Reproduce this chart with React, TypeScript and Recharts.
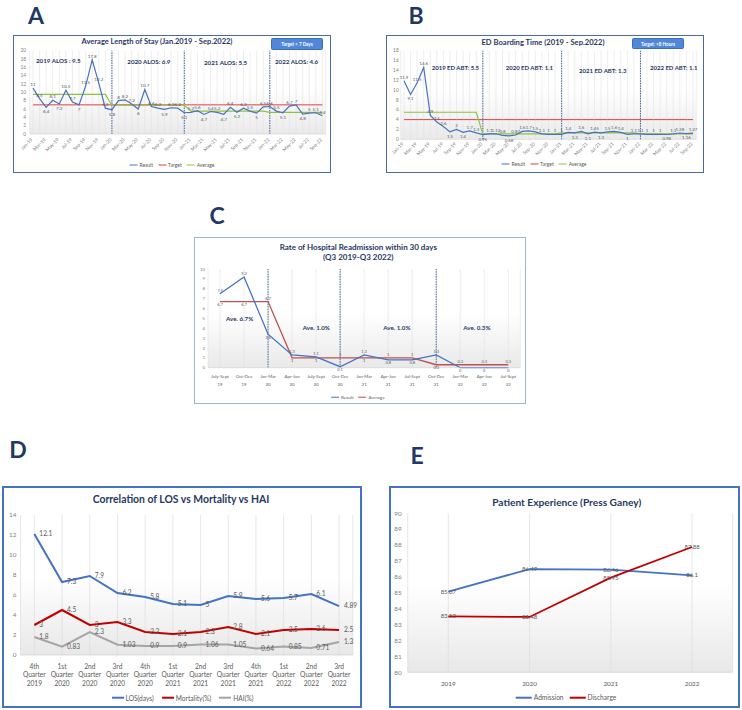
import React from "react";
import {
  LineChart,
  Line,
  XAxis,
  YAxis,
  CartesianGrid,
  ReferenceLine,
  LabelList,
} from "recharts";

// ---- shared month axis for A and B ----
const months = [
  "Jan-19", "Feb-19", "Mar-19", "Apr-19", "May-19", "Jun-19", "Jul-19", "Aug-19", "Sep-19", "Oct-19", "Nov-19", "Dec-19",
  "Jan-20", "Feb-20", "Mar-20", "Apr-20", "May-20", "Jun-20", "Jul-20", "Aug-20", "Sep-20", "Oct-20", "Nov-20", "Dec-20",
  "Jan-21", "Feb-21", "Mar-21", "Apr-21", "May-21", "Jun-21", "Jul-21", "Aug-21", "Sep-21", "Oct-21", "Nov-21", "Dec-21",
  "Jan-22", "Feb-22", "Mar-22", "Apr-22", "May-22", "Jun-22", "Jul-22", "Aug-22", "Sep-22",
];

// A: Average length of stay
const alosResult = [
  11, 8.5, 6.4, 8.1, 7.2, 10.5, 7.7, 7.0, 11.5, 17.8, 12.2, 6.2,
  5.8, 8, 8.2, 7.2, 6, 10.7, 6.6, 6.2, 5.9, 6.3, 6.2, 5.1,
  5.2, 5.6, 4.7, 5.4, 5.2, 4.7, 6.4, 5.2, 6.2, 5.5, 5.0, 6.5,
  6.6, 5.5, 5.1, 6.7, 7, 4.8, 5.0, 5.1, 4.4,
];
const alosTarget = [
  7, 7, 7, 7, 7, 7, 7, 7, 7, 7, 7, 7,
  7, 7, 7, 7, 7, 7, 7, 7, 7, 7, 7, 7,
  7, 7, 7, 7, 7, 7, 7, 7, 7, 7, 7, 7,
  7, 7, 7, 7, 7, 7, 7, 7, 7,
];
const alosAverage = [
  9.5, 9.5, 9.5, 9.5, 9.5, 9.5, 9.5, 9.5, 9.5, 9.5, 9.5, 9.5,
  6.9, 6.9, 6.9, 6.9, 6.9, 6.9, 6.9, 6.9, 6.9, 6.9, 6.9, 6.9,
  5.5, 5.5, 5.5, 5.5, 5.5, 5.5, 5.5, 5.5, 5.5, 5.5, 5.5, 5.5,
  5.2, 5.2, 5.2, 5.2, 5.2, 5.2, 5.2, 5.2, 5.2,
];
const alosTicks = [0, 2, 4, 6, 8, 10, 12, 14, 16, 18, 20];
const alosNotes = ["2019 ALOS : 9.5", "2020 ALOS: 6.9", "2021 ALOS: 5.5", "2022 ALOS: 4.6"];

// B: ED boarding time
const edbtResult = [
  11.9, 9.1, 11.5, 14.6, 4.9, 3.5, 2.6, 1.5, 2, 1.4, 1.7, 1.3,
  0.95, 1.1, 1.12, 0.8, 0.68, 0.87, 1.6, 1.7, 1.5, 1.1, 1.0, 1.0,
  1.0, 1.4, 1.3, 1.6, 1.1, 1.45, 1.3, 1.5, 1.6, 1.4, 1.0, 1.1,
  1.1, 1.0, 1.0, 1.0, 0.98, 1.1, 1.28, 1.16, 1.27,
];
const edbtTarget = [
  4, 4, 4, 4, 4, 4, 4, 4, 4, 4, 4, 4,
  4, 4, 4, 4, 4, 4, 4, 4, 4, 4, 4, 4,
  4, 4, 4, 4, 4, 4, 4, 4, 4, 4, 4, 4,
  4, 4, 4, 4, 4, 4, 4, 4, 4,
];
const edbtAverage = [
  5.5, 5.5, 5.5, 5.5, 5.5, 5.5, 5.5, 5.5, 5.5, 5.5, 5.5, 5.5,
  1.1, 1.1, 1.1, 1.1, 1.1, 1.1, 1.1, 1.1, 1.1, 1.1, 1.1, 1.1,
  1.3, 1.3, 1.3, 1.3, 1.3, 1.3, 1.3, 1.3, 1.3, 1.3, 1.3, 1.3,
  1.1, 1.1, 1.1, 1.1, 1.1, 1.1, 1.1, 1.1, 1.1,
];
const edbtTicks = [0, 2, 4, 6, 8, 10, 12, 14, 16, 18];
const edbtNotes = ["2019 ED ABT: 5.5", "2020 ED ABT: 1.1", "2021 ED ABT: 1.3", "2022 ED ABT: 1.1"];

// C: readmission
const quarters = [
  "July-Sept 19", "Oct-Dec 19", "Jan-Mar 20", "Apr-Jun 20", "July-Sept 20", "Oct-Dec 20", "Jan-Mar 21",
  "Apr-Jun 21", "Jul-Sept 21", "Oct-Dec 21", "Jan-Mar 22", "Apr-Jun 22", "Jul-Sept 22",
];
const readmResult = [7.5, 9.2, 3.4, 1.3, 1.1, 0.1, 1.3, 0.8, 0.8, 1.3, 0, 0, 0];
const readmAverage = [6.7, 6.7, 6.7, 1.0, 1.0, 1.0, 1.0, 1.0, 1.0, 0.3, 0.3, 0.3, 0.3];
const readmTicks = [0, 1, 2, 3, 4, 5, 6, 7, 8, 9, 10];
const readmNotes = ["Ave. 6.7%", "Ave. 1.0%", "Ave. 1.0%", "Ave. 0.3%"];

// D: LOS vs mortality vs HAI
const corrQuarters = [
  "4th Quarter 2019", "1st Quarter 2020", "2nd Quarter 2020", "3rd Quarter 2020", "4th Quarter 2020", "1st Quarter 2021",
  "2nd Quarter 2021", "3rd Quarter 2021", "4th Quarter 2021", "1st Quarter 2022", "2nd Quarter 2022", "3rd Quarter 2022",
];
const losDays = [12.1, 7.3, 7.9, 6.2, 5.8, 5.1, 5, 5.9, 5.6, 5.7, 6.1, 4.89];
const mortality = [3, 4.5, 3, 3.3, 2.3, 2.1, 2.3, 2.8, 2.1, 2.5, 2.6, 2.5];
const hai = [1.8, 0.83, 2.3, 1.03, 0.9, 0.9, 1.06, 1.05, 0.64, 0.85, 0.71, 1.3];
const corrTicks = [0, 2, 4, 6, 8, 10, 12, 14];

// E: patient experience
const years = ["2019", "2020", "2021", "2022"];
const admission = [85.07, 86.49, 86.46, 86.1];
const discharge = [83.52, 83.48, 85.95, 87.88];
const pxTicks = [80, 81, 82, 83, 84, 85, 86, 87, 88, 89, 90];

const dataA = months.map((m, i) => ({ m, result: alosResult[i], target: alosTarget[i], avg: alosAverage[i] }));
const dataB = months.map((m, i) => ({ m, result: edbtResult[i], target: edbtTarget[i], avg: edbtAverage[i] }));
const dataC = quarters.map((q, i) => ({ q, result: readmResult[i], avg: readmAverage[i] }));
const dataD = corrQuarters.map((q, i) => ({ q, los: losDays[i], mort: mortality[i], hai: hai[i] }));
const dataE = years.map((y, i) => ({ y, adm: admission[i], dis: discharge[i] }));

const FONT = "Lato, 'Open Sans', sans-serif";
const NAVY = "#1F3864";
const LBL = "#595959";
const AXT = "#7F7F7F";
const BLUE = "#4472C4";
const DASH = "#2F5597";

const pos = (p: any) => ({ x: Number(p.x ?? p.viewBox?.x), y: Number(p.y ?? p.viewBox?.y) });

// label above the point, below when it is a local low
const peakLabel = (values: number[], size: number) => (p: any) => {
  const { x, y } = pos(p);
  const i = p.index ?? 0;
  const v = values[i];
  const below = v < (values[i - 1] ?? -Infinity) && v < (values[i + 1] ?? -Infinity);
  return (
    <text x={x} y={below ? y + size + 1.5 : y - 2} textAnchor="middle" fontSize={size} fill={LBL}>
      {p.value}
    </text>
  );
};

// label above when this series is the higher one at that point, below otherwise
const pairLabel = (own: number[], other: number[], size: number, preferAbove: boolean) => (p: any) => {
  const { x, y } = pos(p);
  const i = p.index ?? 0;
  const above = own[i] === other[i] ? preferAbove : own[i] > other[i];
  return (
    <text x={x} y={above ? y - 1.8 : y + size + 0.6} textAnchor="middle" fontSize={size} fill={LBL}>
      {p.value}
    </text>
  );
};

const centerLabel = (size: number) => (p: any) => {
  const { x, y } = pos(p);
  return (
    <text x={x} y={y + size * 0.35} textAnchor="middle" fontSize={size} fill={LBL}>
      {p.value}
    </text>
  );
};

const rightLabel = (size: number) => (p: any) => {
  const { x, y } = pos(p);
  return (
    <text x={x + 5} y={y + size * 0.35} textAnchor="start" fontSize={size} fill={LBL}>
      {p.value}
    </text>
  );
};

const rotTick = (labels: string[], size: number, dy: number) => (p: any) => {
  const v = p.payload?.value;
  if (labels.indexOf(v) % 2 !== 0) return <g />;
  const y = p.y + dy;
  return (
    <text x={p.x} y={y} transform={`rotate(-45 ${p.x} ${y})`} textAnchor="end" fontSize={size} fill={AXT}>
      {v}
    </text>
  );
};

const stackTick = (size: number, first: number, lineH: number) => (p: any) => {
  const parts = String(p.payload?.value).split(" ");
  return (
    <text x={p.x} y={p.y + first} textAnchor="middle" fontSize={size} fill={LBL}>
      {parts.map((s, k) => (
        <tspan key={k} x={p.x} dy={k === 0 ? 0 : lineH}>
          {s}
        </tspan>
      ))}
    </text>
  );
};

function Txt(props: { x: number; y: number; size: number; children: any; color?: string; bold?: boolean; left?: boolean }) {
  const { x, y, size, children, color = NAVY, bold = true, left = false } = props;
  return (
    <div
      style={{
        position: "absolute",
        left: x,
        top: y,
        transform: left ? "translate(0,-50%)" : "translate(-50%,-50%)",
        fontSize: size,
        fontWeight: bold ? 700 : 400,
        color,
        whiteSpace: "nowrap",
        lineHeight: 1,
      }}
    >
      {children}
    </div>
  );
}

function Box(props: { x: number; y: number; w: number; h: number; border: string }) {
  return (
    <div
      style={{
        position: "absolute",
        left: props.x,
        top: props.y,
        width: props.w,
        height: props.h,
        border: props.border,
        boxSizing: "border-box",
        background: "#fff",
      }}
    />
  );
}

function Keys(props: { x: number; y: number; size: number; sw: number; lw: number; gap: number; items: { name: string; color: string }[] }) {
  return (
    <div
      style={{
        position: "absolute",
        left: props.x,
        top: props.y,
        transform: "translate(-50%,-50%)",
        display: "flex",
        alignItems: "center",
        gap: props.gap,
        fontSize: props.size,
        color: LBL,
        whiteSpace: "nowrap",
        lineHeight: 1,
      }}
    >
      {props.items.map((it) => (
        <div key={it.name} style={{ display: "flex", alignItems: "center" }}>
          <span style={{ display: "inline-block", width: props.sw, height: props.lw, background: it.color, marginRight: 2 }} />
          {it.name}
        </div>
      ))}
    </div>
  );
}

function Button(props: { x: number; y: number; w: number; h: number; text: string }) {
  return (
    <div
      style={{
        position: "absolute",
        left: props.x,
        top: props.y,
        width: props.w,
        height: props.h,
        background: "#5087D6",
        border: "0.5px solid #3B6EC0",
        borderRadius: 1.5,
        boxSizing: "border-box",
        color: "#fff",
        fontSize: 4.6,
        fontWeight: 700,
        display: "flex",
        alignItems: "center",
        justifyContent: "center",
        whiteSpace: "nowrap",
      }}
    >
      {props.text}
    </div>
  );
}

function Grad({ id, to }: { id: string; to: string }) {
  return (
    <defs>
      <linearGradient id={id} x1="0" y1="0" x2="0" y2="1">
        <stop offset="0%" stopColor="#ffffff" />
        <stop offset="45%" stopColor="#ffffff" />
        <stop offset="100%" stopColor={to} />
      </linearGradient>
    </defs>
  );
}

function ChartA() {
  return (
    <div style={{ position: "absolute", left: 13, top: 35 }}>
      <LineChart width={318} height={138} data={dataA} margin={{ top: 15.7, right: 5.3, left: 0, bottom: 13 }}>
        <Grad id="gA" to="#EAEAEA" />
        <CartesianGrid horizontal={false} stroke="#E2E2E2" strokeWidth={0.6} fill="url(#gA)" />
        <XAxis
          dataKey="m"
          interval={0}
          height={26}
          tickLine={false}
          tickSize={0}
          axisLine={{ stroke: "#D0D0D0", strokeWidth: 0.6 }}
          padding={{ left: 3.3, right: 3.3 }}
          tick={rotTick(months, 4.8, 4)}
        />
        <YAxis
          domain={[0, 20]}
          ticks={alosTicks}
          interval={0}
          width={16.7}
          tickLine={false}
          axisLine={false}
          tickSize={0}
          tickMargin={3.7}
          tick={{ fontSize: 4.8, fill: AXT }}
        />
        <ReferenceLine x="Jan-20" stroke={DASH} strokeDasharray="1.5 1" strokeWidth={0.9} />
        <ReferenceLine x="Dec-20" stroke={DASH} strokeDasharray="1.5 1" strokeWidth={0.9} />
        <ReferenceLine x="Jan-22" stroke={DASH} strokeDasharray="1.5 1" strokeWidth={0.9} />
        <Line dataKey="target" stroke="#E0403F" strokeWidth={1} dot={false} isAnimationActive={false} />
        <Line dataKey="avg" stroke="#8CC43F" strokeWidth={1.2} dot={false} isAnimationActive={false} />
        <Line dataKey="result" stroke={BLUE} strokeWidth={1.2} dot={false} isAnimationActive={false}>
          <LabelList dataKey="result" content={peakLabel(alosResult, 4.6)} />
        </Line>
      </LineChart>
    </div>
  );
}

function ChartB() {
  return (
    <div style={{ position: "absolute", left: 386, top: 35 }}>
      <LineChart width={318} height={138} data={dataB} margin={{ top: 15.7, right: 7.7, left: 0, bottom: 11.7 }}>
        <Grad id="gB" to="#EAEAEA" />
        <CartesianGrid horizontal={false} stroke="#E2E2E2" strokeWidth={0.6} fill="url(#gB)" />
        <XAxis
          dataKey="m"
          interval={0}
          height={22}
          tickLine={false}
          tickSize={0}
          axisLine={{ stroke: "#D0D0D0", strokeWidth: 0.6 }}
          padding={{ left: 3.3, right: 3.3 }}
          tick={rotTick(months, 4.8, 3)}
        />
        <YAxis
          domain={[0, 18]}
          ticks={edbtTicks}
          interval={0}
          width={14.7}
          tickLine={false}
          axisLine={false}
          tickSize={0}
          tickMargin={2}
          tick={{ fontSize: 4.8, fill: AXT }}
        />
        <ReferenceLine x="Jan-20" stroke={DASH} strokeDasharray="1.5 1" strokeWidth={0.9} />
        <ReferenceLine x="Jan-21" stroke={DASH} strokeDasharray="1.5 1" strokeWidth={0.9} />
        <ReferenceLine x="Jan-22" stroke={DASH} strokeDasharray="1.5 1" strokeWidth={0.9} />
        <Line dataKey="target" stroke="#E0403F" strokeWidth={1} dot={false} isAnimationActive={false} />
        <Line dataKey="avg" stroke="#8CC43F" strokeWidth={1.2} dot={false} isAnimationActive={false} />
        <Line dataKey="result" stroke={BLUE} strokeWidth={1.2} dot={false} isAnimationActive={false}>
          <LabelList dataKey="result" content={peakLabel(edbtResult, 4.4)} />
        </Line>
      </LineChart>
    </div>
  );
}

function ChartC() {
  return (
    <div style={{ position: "absolute", left: 194, top: 237 }}>
      <LineChart width={332} height={167} data={dataC} margin={{ top: 32, right: 5.7, left: 0, bottom: 16.3 }}>
        <Grad id="gC" to="#E9E9E9" />
        <CartesianGrid horizontal={false} stroke="#E0E0E0" strokeWidth={0.6} fill="url(#gC)" />
        <XAxis
          dataKey="q"
          interval={0}
          height={20}
          tickLine={false}
          tickSize={0}
          axisLine={{ stroke: "#D0D0D0", strokeWidth: 0.6 }}
          padding={{ left: 12, right: 12 }}
          tick={stackTick(4.4, 8, 8)}
        />
        <YAxis
          domain={[0, 10]}
          ticks={readmTicks}
          interval={0}
          width={14}
          tickLine={false}
          axisLine={false}
          tickSize={0}
          tickMargin={3}
          tick={{ fontSize: 4.4, fill: AXT }}
        />
        <ReferenceLine x="Jan-Mar 20" stroke={DASH} strokeDasharray="1.5 1" strokeWidth={0.9} />
        <ReferenceLine x="Oct-Dec 20" stroke={DASH} strokeDasharray="1.5 1" strokeWidth={0.9} />
        <ReferenceLine x="Oct-Dec 21" stroke={DASH} strokeDasharray="1.5 1" strokeWidth={0.9} />
        <Line dataKey="avg" stroke="#C0504D" strokeWidth={1.3} dot={false} isAnimationActive={false}>
          <LabelList dataKey="avg" content={pairLabel(readmAverage, readmResult, 4, false)} />
        </Line>
        <Line dataKey="result" stroke={BLUE} strokeWidth={1.3} dot={false} isAnimationActive={false}>
          <LabelList dataKey="result" content={pairLabel(readmResult, readmAverage, 4, true)} />
        </Line>
      </LineChart>
    </div>
  );
}

function ChartD() {
  return (
    <div style={{ position: "absolute", left: 2, top: 486 }}>
      <LineChart width={360} height={222} data={dataD} margin={{ top: 29, right: 9.1, left: 0, bottom: 21 }}>
        <Grad id="gD" to="#E8E8E8" />
        <CartesianGrid horizontal={false} stroke="#DDDDDD" strokeWidth={0.7} fill="url(#gD)" />
        <XAxis
          dataKey="q"
          interval={0}
          height={32}
          tickLine={false}
          tickSize={0}
          axisLine={{ stroke: "#D0D0D0", strokeWidth: 0.7 }}
          padding={{ left: 13.85, right: 13.85 }}
          tick={stackTick(6.6, 11.5, 8.5)}
        />
        <YAxis
          domain={[0, 14]}
          ticks={corrTicks}
          interval={0}
          width={18.5}
          tickLine={false}
          axisLine={false}
          tickSize={0}
          tickMargin={4}
          tick={{ fontSize: 6.4, fill: AXT }}
        />
        <Line dataKey="los" stroke={BLUE} strokeWidth={2} dot={false} isAnimationActive={false}>
          <LabelList dataKey="los" content={rightLabel(6.6)} />
        </Line>
        <Line dataKey="mort" stroke="#C00000" strokeWidth={2} dot={false} isAnimationActive={false}>
          <LabelList dataKey="mort" content={rightLabel(6.6)} />
        </Line>
        <Line dataKey="hai" stroke="#A5A5A5" strokeWidth={2} dot={false} isAnimationActive={false}>
          <LabelList dataKey="hai" content={rightLabel(6.6)} />
        </Line>
      </LineChart>
    </div>
  );
}

function ChartE() {
  return (
    <div style={{ position: "absolute", left: 389, top: 486 }}>
      <LineChart width={351} height={222} data={dataE} margin={{ top: 27.3, right: 7.3, left: 0, bottom: 19.7 }}>
        <Grad id="gE" to="#E8E8E8" />
        <CartesianGrid horizontal={false} stroke="#DDDDDD" strokeWidth={0.7} fill="url(#gE)" />
        <XAxis
          dataKey="y"
          interval={0}
          height={16}
          tickLine={false}
          tickSize={0}
          axisLine={{ stroke: "#D0D0D0", strokeWidth: 0.7 }}
          padding={{ left: 40.6, right: 40.6 }}
          tick={stackTick(6.4, 11.5, 8)}
        />
        <YAxis
          domain={[80, 90]}
          ticks={pxTicks}
          interval={0}
          width={18.7}
          tickLine={false}
          axisLine={false}
          tickSize={0}
          tickMargin={6}
          tick={{ fontSize: 6.4, fill: AXT }}
        />
        <Line dataKey="adm" stroke={BLUE} strokeWidth={1.8} dot={false} isAnimationActive={false}>
          <LabelList dataKey="adm" content={centerLabel(6)} />
        </Line>
        <Line dataKey="dis" stroke="#C00000" strokeWidth={1.8} dot={false} isAnimationActive={false}>
          <LabelList dataKey="dis" content={centerLabel(6)} />
        </Line>
      </LineChart>
    </div>
  );
}

export default function App() {
  return (
    <div
      style={{
        position: "absolute",
        left: 0,
        top: 0,
        width: 742,
        height: 710,
        overflow: "hidden",
        background: "#fff",
        fontFamily: FONT,
      }}
    >
      {/* panel letters */}
      <Txt x={36} y={15} size={23}>A</Txt>
      <Txt x={416} y={15} size={23}>B</Txt>
      <Txt x={217} y={215} size={23}>C</Txt>
      <Txt x={18} y={449} size={23}>D</Txt>
      <Txt x={417} y={455} size={23}>E</Txt>

      {/* A */}
      <Box x={13} y={35} w={318} h={138} border="1.5px solid #4A69A6" />
      <ChartA />
      <Txt x={157} y={42} size={7.5}>Average Length of Stay (Jan.2019 - Sep.2022)</Txt>
      <Button x={271} y={37.5} w={52} h={12.5} text="Target < 7 Days" />
      <Txt x={36} y={60.7} size={6.2} left>{alosNotes[0]}</Txt>
      <Txt x={127.3} y={61.7} size={6.2} left>{alosNotes[1]}</Txt>
      <Txt x={204} y={62.7} size={6.2} left>{alosNotes[2]}</Txt>
      <Txt x={275} y={62.3} size={6.2} left>{alosNotes[3]}</Txt>
      <Keys
        x={172}
        y={165}
        size={5}
        sw={8}
        lw={1.2}
        gap={5}
        items={[
          { name: "Result", color: BLUE },
          { name: "Target", color: "#E0403F" },
          { name: "Average", color: "#8CC43F" },
        ]}
      />

      {/* B */}
      <Box x={386} y={35} w={318} h={138} border="1.5px solid #4A69A6" />
      <ChartB />
      <Txt x={543} y={43.3} size={7.6}>ED Boarding Time (2019 - Sep.2022)</Txt>
      <Button x={632} y={38.3} w={52} h={11} text="Target: <8 Hours" />
      <Txt x={431.7} y={68.3} size={6} left>{edbtNotes[0]}</Txt>
      <Txt x={505.7} y={67.7} size={6} left>{edbtNotes[1]}</Txt>
      <Txt x={579} y={70.7} size={6} left>{edbtNotes[2]}</Txt>
      <Txt x={650} y={68.3} size={6} left>{edbtNotes[3]}</Txt>
      <Keys
        x={544}
        y={164}
        size={5}
        sw={8}
        lw={1.2}
        gap={5}
        items={[
          { name: "Result", color: BLUE },
          { name: "Target", color: "#E0403F" },
          { name: "Average", color: "#8CC43F" },
        ]}
      />

      {/* C */}
      <Box x={194} y={237} w={332} h={167} border="1px solid #9DB3D9" />
      <ChartC />
      <Txt x={358.3} y={247.3} size={8}>Rate of Hospital Readmission within 30 days</Txt>
      <Txt x={358.3} y={257.3} size={8}>(Q3 2019-Q3 2022)</Txt>
      <Txt x={226} y={319.3} size={6.2} left>{readmNotes[0]}</Txt>
      <Txt x={302.7} y={327.7} size={6.2} left>{readmNotes[1]}</Txt>
      <Txt x={383.3} y={327.7} size={6.2} left>{readmNotes[2]}</Txt>
      <Txt x={463.3} y={327.7} size={6.2} left>{readmNotes[3]}</Txt>
      <Keys
        x={358}
        y={397}
        size={4.6}
        sw={8}
        lw={1.2}
        gap={5}
        items={[
          { name: "Result", color: BLUE },
          { name: "Average", color: "#C0504D" },
        ]}
      />

      {/* D */}
      <Box x={2} y={486} w={360} h={222} border="2px solid #4472C4" />
      <ChartD />
      <Txt x={181} y={499} size={10.4}>Correlation of LOS vs Mortality vs HAI</Txt>
      <Keys
        x={182.5}
        y={697.7}
        size={6.6}
        sw={12}
        lw={2}
        gap={8}
        items={[
          { name: "LOS(days)", color: BLUE },
          { name: "Mortality(%)", color: "#C00000" },
          { name: "HAI(%)", color: "#A5A5A5" },
        ]}
      />

      {/* E */}
      <Box x={389} y={486} w={351} h={222} border="2px solid #4472C4" />
      <ChartE />
      <Txt x={566.7} y={502.3} size={10.2}>Patient Experience (Press Ganey)</Txt>
      <Keys
        x={566}
        y={697.3}
        size={6.6}
        sw={16}
        lw={2}
        gap={6}
        items={[
          { name: "Admission", color: BLUE },
          { name: "Discharge", color: "#C00000" },
        ]}
      />
    </div>
  );
}
